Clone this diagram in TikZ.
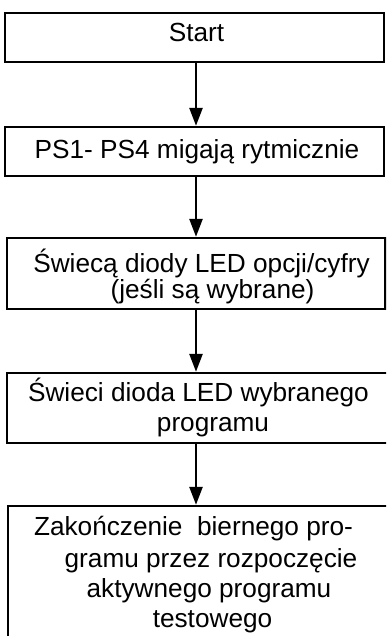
\documentclass[tikz,border=0pt]{standalone}
\usepackage{fontspec}
\setmainfont{Liberation Sans}
\usetikzlibrary{arrows.meta}
\tikzset{
  stepbox/.style={draw=black, line width=2.4pt, fill=white, rectangle, inner sep=0pt},
  txt/.style={inner sep=0pt, anchor=base, font=\fontsize{26.2}{26.2}\selectfont},
  arr/.style={line width=2.6pt, -{Triangle[width=13pt,length=18pt]}}
}
\begin{document}
\begin{tikzpicture}[x=1pt,y=-1pt]
  \useasboundingbox (0,0) rectangle (386,636);
  \clip (0,0) rectangle (386,636);
  \fill[white] (0,0) rectangle (386,636);

  % flow boxes
  \node[stepbox, minimum width=379pt, minimum height=49pt] (b1) at (194.5,37.5) {};
  \node[stepbox, minimum width=379pt, minimum height=49pt] (b2) at (194.5,151.5) {};
  \node[stepbox, minimum width=378.5pt, minimum height=71pt] (b3) at (196.25,273.5) {};
  \node[stepbox, minimum width=385pt, minimum height=70pt] (b4) at (199.5,408) {};
  \node[stepbox, minimum width=384pt, minimum height=154pt] (b5) at (200,583) {};

  % box texts
  \node[txt] (t1) at (196.5,42) {Start};
  \node[txt] (t2) at (197,159) {PS1- PS4 migają rytmicznie};
  \node[txt] (t3a) at (201.5,272) {Świecą diody LED opcji/cyfry};
  \node[txt] (t3b) at (212.5,298) {(jeśli są wybrane)};
  \node[txt] (t4a) at (198.5,401) {Świeci dioda LED wybranego};
  \node[txt] (t4b) at (213,431) {programu};
  \node[txt] (t5a) at (193.5,535) {Zakończenie\ \ biernego pro-};
  \node[txt] (t5b) at (211,567) {gramu przez rozpoczęcie};
  \node[txt] (t5c) at (209,597) {aktywnego programu};
  \node[txt] (t5d) at (212.5,627) {testowego};

  % connectors
  \coordinate (ax) at (196,0);
  \draw[arr] (b1.south -| ax) -- (b2.north -| ax);
  \draw[arr] (b2.south -| ax) -- (b3.north -| ax);
  \draw[arr] (b3.south -| ax) -- (b4.north -| ax);
  \draw[arr] (b4.south -| ax) -- (b5.north -| ax);
\end{tikzpicture}
\end{document}
